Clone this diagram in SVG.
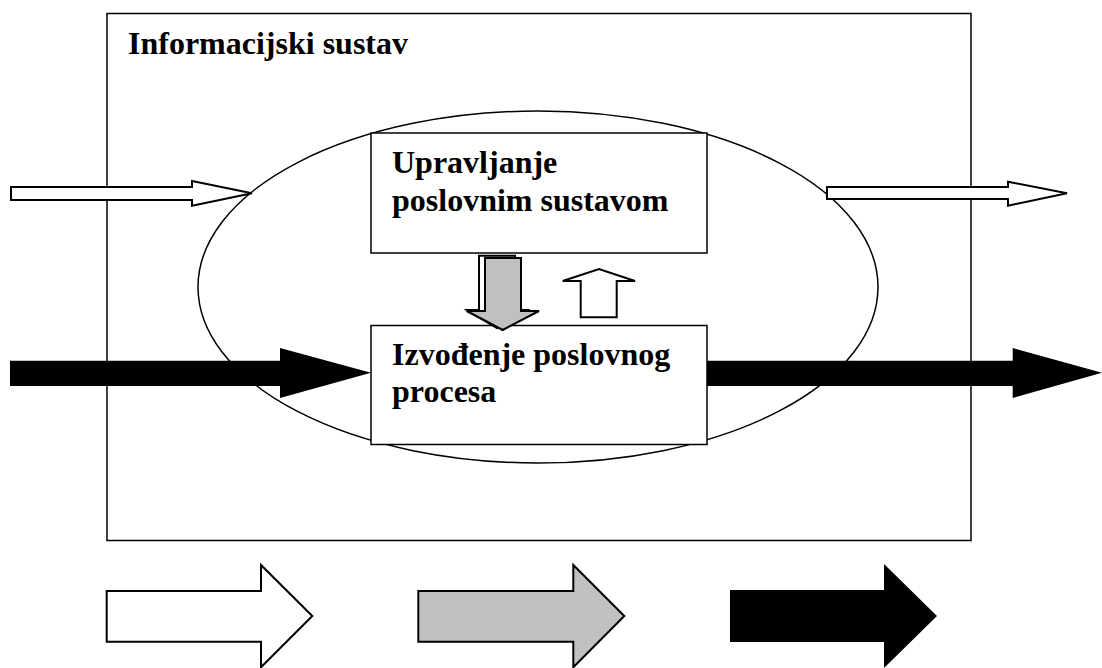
<svg xmlns="http://www.w3.org/2000/svg" width="1102" height="668" viewBox="0 0 1102 668">
<style>
.t{font-family:'Liberation Serif','Times New Roman','DejaVu Serif',serif;font-weight:700;font-size:32px;fill:#000}
.ln{fill:#fff;stroke:#000;stroke-width:1.5}
.aw{fill:#fff;stroke:#000;stroke-width:2;stroke-linejoin:miter}
.ag{fill:#c0c0c0;stroke:#000;stroke-width:2}
.ab{fill:#000;stroke:none}
</style>
<rect width="1102" height="668" fill="#fff"/>
<g id="info-system">
<rect class="ln" x="107" y="13.5" width="864" height="527"/>
<text class="t" x="128" y="54" font-family="Liberation Serif, serif">Informacijski sustav</text>
</g>
<g id="ellipse">
<ellipse cx="538" cy="287" rx="340" ry="176" fill="none" stroke="#000" stroke-width="1.5"/>
</g>
<g id="upravljanje">
<rect class="ln" x="371" y="133" width="336" height="120"/>
<text class="t" x="392" y="173" font-family="Liberation Serif, serif">Upravljanje</text>
<text class="t" x="392" y="210.5" font-family="Liberation Serif, serif">poslovnim sustavom</text>
</g>
<g id="izvodjenje">
<rect class="ln" x="371" y="325.5" width="336" height="119"/>
<text class="t" x="392" y="365" font-family="Liberation Serif, serif">Izvođenje poslovnog</text>
<text class="t" x="392" y="402" font-family="Liberation Serif, serif">procesa</text>
</g>
<g id="connectors">
<polygon class="aw" points="11,187 192,187 192,181 252,193.3 192,205.7 192,200 11,200"/>
<polygon class="aw" points="827,187 1008,187 1008,181.7 1067,193.3 1008,205.7 1008,199 827,199"/>
<polygon class="ab" points="10,360.7 280,360.7 280,348 371,372.7 280,398 280,386 10,386"/>
<polygon class="ab" points="707,360.7 1012.7,360.7 1012.7,348 1102,372.7 1012.7,398 1012.7,386 707,386"/>
<polygon class="aw" points="479,255.7 515,255.7 515,310 527,310 497,328 467,310 479,310"/>
<polygon class="ag" points="485,258 521,258 521,311 539,311 502.7,330 466.7,311 485,311"/>
<polygon class="aw" points="580.7,317.3 616.7,317.3 616.7,281 635,281 599,269 562.7,281 580.7,281"/>
<polygon class="aw" points="106.7,591 261,591 261,565 312.3,616 261,667.3 261,641.7 106.7,641.7"/>
<polygon class="ag" points="418.3,591 573.3,591 573.3,565 624.3,616 573.3,667.3 573.3,641.7 418.3,641.7"/>
<polygon class="ab" points="730,590 884,590 884,564 937,616 884,668 884,642 730,642"/>
</g>
</svg>
